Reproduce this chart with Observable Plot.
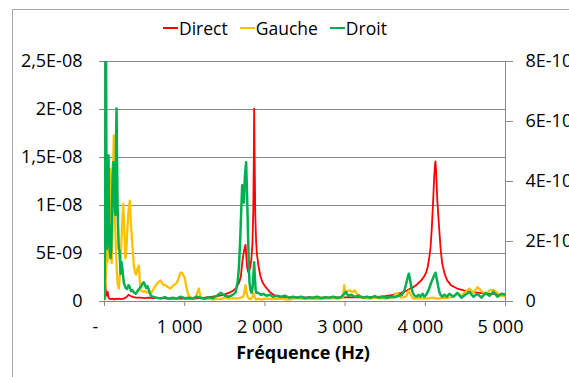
<!DOCTYPE html>
<html><head><meta charset="utf-8">
<script src="https://cdn.jsdelivr.net/npm/d3@7"></script>
<script src="https://cdn.jsdelivr.net/npm/@observablehq/plot@0.6"></script>
<style>
html,body{margin:0;padding:0;background:#fff;overflow:hidden;}
#wrap{position:relative;width:569px;height:377px;overflow:hidden;font-family:"Open Sans",sans-serif;background:#fff;}
#chart{position:absolute;left:0;top:0;}
#frame{position:absolute;left:12px;top:9px;width:700px;height:500px;border:1px solid #a6a6a6;box-sizing:border-box;z-index:2;pointer-events:none;}
#legend{position:absolute;left:163px;top:16px;display:flex;align-items:center;font-size:17.5px;color:#000;z-index:3;white-space:nowrap;}
#legend .item{display:flex;align-items:center;margin-right:12px;}
#legend .sw{display:inline-block;width:15px;height:2px;margin-right:1px;}
</style>
</head><body>
<div id="wrap"><div id="chart"></div><div id="frame"></div><div id="legend"></div></div>
<script>
// values in units of 1E-09
const seriesNames = ["Direct", "Gauche", "Droit"];
const seriesColors = ["#FF0000", "#FFC000", "#00B050"];

const direct = [[0,0.3],[10,2.0],[15,1.4],[20,0.9],[30,0.6],[40,1.0],[50,0.4],[60,0.3],[80,0.25],[100,0.3],[120,0.2],[140,0.3],[160,0.25],[180,0.3],[200,0.25],[240,0.3],[280,0.5],[300,0.7],[320,0.6],[360,0.45],[400,0.4],[450,0.4],[500,0.35],[550,0.4],[600,0.35],[700,0.35],[800,0.3],[900,0.3],[1000,0.3],[1100,0.3],[1200,0.35],[1250,0.4],[1300,0.45],[1350,0.5],[1400,0.55],[1450,0.65],[1500,0.75],[1550,0.9],[1600,1.1],[1640,1.4],[1680,2.0],[1700,2.6],[1717,4.0],[1730,4.8],[1745,5.5],[1758,5.9],[1768,4.8],[1778,3.6],[1790,3.1],[1800,3.1],[1815,3.5],[1830,4.3],[1845,6],[1855,9.5],[1862,15],[1866,20.1],[1872,15],[1880,9],[1890,6.3],[1900,5.0],[1920,3.7],[1945,2.6],[1970,2.0],[2000,1.6],[2030,1.3],[2060,1.0],[2090,0.8],[2130,0.6],[2170,0.5],[2250,0.45],[2400,0.42],[2600,0.4],[2800,0.4],[3000,0.42],[3200,0.42],[3400,0.48],[3500,0.55],[3600,0.68],[3700,0.9],[3760,1.1],[3815,1.35],[3860,1.55],[3900,1.8],[3950,2.2],[3985,2.6],[4010,3.0],[4030,3.6],[4050,4.6],[4065,5.6],[4080,7.5],[4095,10],[4110,12.8],[4120,14.2],[4127,14.6],[4135,13.5],[4150,10.5],[4169,8.1],[4190,5.6],[4210,4.0],[4240,2.9],[4273,2.2],[4320,1.7],[4398,1.35],[4480,1.15],[4564,1.0],[4680,0.9],[4813,0.8],[4900,0.8],[5000,0.75]];

const gauche = [[0,0.2],[10,1.5],[20,3.0],[30,5.5],[40,4.2],[50,8],[60,13],[70,13.8],[80,6],[90,4],[100,8],[110,15],[116,17.3],[125,12],[135,7.4],[145,5],[155,3],[165,1.8],[179,1.35],[190,2.5],[205,5],[220,8],[233,10.2],[245,8],[260,4.5],[270,5],[285,7.5],[300,9.5],[316,10.5],[330,8],[350,5.6],[365,3.8],[380,3.0],[395,2.8],[410,3.4],[428,3.75],[440,2.2],[450,1.2],[470,1.1],[490,1.0],[510,1.1],[530,0.9],[555,1.0],[575,0.9],[600,1.1],[616,1.35],[640,1.7],[670,2.0],[698,2.2],[720,1.9],[740,1.7],[760,1.7],[790,1.5],[823,1.35],[850,1.6],[880,1.8],[906,2.0],[930,2.6],[950,3.0],[968,3.0],[985,2.7],[1000,2.5],[1020,1.5],[1050,0.6],[1080,0.4],[1110,0.3],[1140,0.5],[1160,1.0],[1176,1.35],[1190,0.8],[1200,0.3],[1250,0.25],[1300,0.3],[1350,0.2],[1400,0.3],[1450,0.25],[1500,0.4],[1550,0.3],[1600,0.35],[1650,0.3],[1700,0.4],[1730,0.5],[1745,1.0],[1758,1.7],[1768,1.1],[1780,0.6],[1800,0.3],[1820,0.25],[1840,0.4],[1855,0.7],[1862,0.85],[1870,0.5],[1890,0.2],[1920,0.3],[1960,0.2],[2000,0.3],[2100,0.25],[2200,0.3],[2300,0.2],[2400,0.35],[2500,0.25],[2600,0.3],[2700,0.25],[2800,0.35],[2900,0.3],[2970,0.4],[2990,1.7],[3005,0.8],[3030,1.1],[3060,1.15],[3090,1.0],[3120,1.15],[3150,0.8],[3200,0.4],[3300,0.3],[3400,0.4],[3500,0.3],[3600,0.45],[3650,0.9],[3700,0.4],[3760,0.5],[3780,0.9],[3795,1.15],[3815,0.7],[3850,0.3],[3900,0.35],[4000,0.3],[4100,0.4],[4150,0.3],[4200,0.35],[4300,0.4],[4350,0.5],[4400,0.8],[4450,0.6],[4500,1.0],[4550,1.35],[4600,0.9],[4650,1.5],[4700,1.1],[4750,0.7],[4800,1.15],[4850,1.2],[4900,0.9],[4950,0.6],[5000,0.5]];

const droit = [[0,0.3],[8,8],[14,25],[20,25],[26,7],[32,5.5],[40,9],[50,15.2],[58,8],[66,5.5],[75,4.5],[83,5.3],[92,8],[100,13],[108,14.5],[116,14.5],[125,10],[137,9],[145,17],[150,20.1],[156,15],[163,10],[170,7.7],[178,5.5],[187,5.3],[200,2.9],[212,4.1],[222,3.5],[229,2.9],[240,2.0],[255,1.6],[265,1.4],[280,1.3],[300,1.7],[315,1.5],[330,1.1],[345,1.2],[360,1.0],[375,0.9],[390,0.8],[405,1.0],[420,1.2],[440,1.4],[460,1.6],[475,1.9],[490,2.0],[505,1.7],[520,1.4],[535,1.6],[550,1.3],[565,0.9],[580,0.6],[600,0.5],[650,0.4],[700,0.3],[750,0.45],[800,0.3],[850,0.4],[900,0.3],[950,0.5],[1000,0.35],[1050,0.4],[1100,0.3],[1150,0.5],[1200,0.4],[1250,0.3],[1300,0.45],[1350,0.35],[1400,0.6],[1450,0.9],[1500,0.6],[1550,0.5],[1600,0.7],[1633,0.9],[1660,2.0],[1675,3.4],[1690,6],[1705,9.5],[1717,12.1],[1727,11.5],[1737,10.3],[1750,13],[1766,14.5],[1778,11],[1791,6.6],[1800,3.5],[1808,2.0],[1820,1.2],[1833,0.9],[1845,1.3],[1855,2.5],[1866,4.1],[1875,2.5],[1885,1.2],[1895,0.9],[1920,0.9],[1950,0.7],[1980,0.8],[2020,0.6],[2060,0.7],[2100,0.5],[2150,0.6],[2200,0.5],[2250,0.6],[2300,0.4],[2350,0.5],[2400,0.4],[2450,0.5],[2500,0.35],[2550,0.45],[2600,0.4],[2650,0.5],[2700,0.35],[2750,0.45],[2800,0.4],[2850,0.5],[2900,0.4],[2950,0.45],[2990,0.8],[3010,1.0],[3040,0.6],[3080,0.7],[3120,0.5],[3170,0.6],[3220,0.4],[3270,0.5],[3320,0.4],[3370,0.55],[3420,0.4],[3470,0.5],[3520,0.4],[3570,0.5],[3620,0.45],[3670,0.6],[3710,0.7],[3740,1.2],[3760,1.8],[3780,2.5],[3795,2.9],[3810,2.3],[3825,1.5],[3845,0.9],[3865,0.6],[3890,0.5],[3915,0.7],[3940,0.5],[3965,0.8],[3990,0.5],[4010,0.7],[4030,1.0],[4050,1.4],[4070,1.9],[4090,2.3],[4110,2.7],[4127,3.0],[4145,2.3],[4160,1.6],[4175,1.0],[4190,0.7],[4210,0.5],[4240,0.7],[4270,0.5],[4300,0.8],[4350,0.5],[4400,0.9],[4450,0.4],[4500,0.7],[4550,1.0],[4600,0.5],[4650,0.8],[4700,0.4],[4750,0.9],[4800,0.6],[4850,1.0],[4900,0.5],[4950,0.8],[5000,0.7]];

const xTickValues = [0, 1000, 2000, 3000, 4000, 5000];
const xTickLabels = ["-", "1 000", "2 000", "3 000", "4 000", "5 000"];
const leftTickValues = [0, 5, 10, 15, 20, 25];
const leftTickLabels = ["0", "5E-09", "1E-08", "1,5E-08", "2E-08", "2,5E-08"];
const rightTickValues = [0, 2, 4, 6, 8];          // units of 1E-10
const rightTickLabels = ["0", "2E-10", "4E-10", "6E-10", "8E-10"];
const rightMax = 8, leftMax = 25;
const xTitle = "Fréquence (Hz)";

const rightTickPos = rightTickValues.map(v => v * leftMax / rightMax);
const gray = "#898989";

const xt = xTickValues.map((v, i) => ({v, label: xTickLabels[i]}));
const rt = rightTickPos.map((v, i) => ({v, label: rightTickLabels[i]}));

const chart = Plot.plot({
  width: 569, height: 377,
  marginLeft: 104, marginRight: 64, marginTop: 61, marginBottom: 76,
  style: {fontFamily: "Open Sans", fontSize: "18px", background: "transparent", color: "#000", overflow: "visible"},
  x: {domain: [0, 5000]},
  y: {domain: [0, leftMax]},
  marks: [
    Plot.ruleY(leftTickValues, {stroke: gray, strokeWidth: 1}),
    Plot.ruleX([0, 5000], {stroke: gray, strokeWidth: 1}),
    Plot.axisY({ticks: leftTickValues, tickFormat: d => leftTickLabels[leftTickValues.indexOf(d)], tickSize: 5, tickPadding: 17, stroke: gray, fill: "#000", label: null}),
    Plot.ruleY(rightTickPos, {x1: 5000, x2: 5000, insetRight: -8, stroke: gray, strokeWidth: 1}),
    Plot.text(rt, {y: "v", text: "label", frameAnchor: "right", dx: 20, textAnchor: "start", fill: "#000"}),
    Plot.axisX({ticks: xTickValues, tickFormat: () => "", tickSize: 5, stroke: gray, label: null}),
    Plot.text(xt.filter(d => d.v === 0), {x: "v", text: "label", frameAnchor: "bottom", dy: 31, dx: -9, fill: "#000"}),
    Plot.text(xt.filter(d => d.v !== 0), {x: "v", text: "label", frameAnchor: "bottom", dy: 31, dx: -5, fill: "#000"}),
    Plot.text([xTitle], {frameAnchor: "bottom", dy: 57, dx: -2, fontWeight: "bold", fill: "#000"}),
    Plot.line(direct, {x: d => d[0], y: d => d[1], stroke: seriesColors[0], strokeWidth: 1.8, clip: true, strokeLinejoin: "round"}),
    Plot.line(gauche, {x: d => d[0], y: d => d[1], stroke: seriesColors[1], strokeWidth: 2.3, clip: true, strokeLinejoin: "round"}),
    Plot.line(droit, {x: d => d[0], y: d => d[1], stroke: seriesColors[2], strokeWidth: 2.5, clip: true, strokeLinejoin: "round"})
  ]
});
document.getElementById("chart").appendChild(chart);

const legend = document.getElementById("legend");
seriesNames.forEach((n, i) => {
  const it = document.createElement("span");
  it.className = "item";
  it.innerHTML = `<span class="sw" style="background:${seriesColors[i]}"></span><span>${n}</span>`;
  legend.appendChild(it);
});
</script>
</body></html>
